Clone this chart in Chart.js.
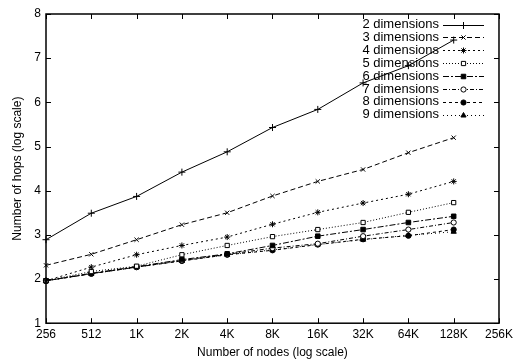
<!DOCTYPE html>
<html>
<head>
<meta charset="utf-8">
<script src="https://cdn.jsdelivr.net/npm/chart.js@4"></script>
<style>
  html, body { margin: 0; padding: 0; background: #fff; }
  #wrap { width: 517px; height: 360px; }
</style>
</head>
<body>
<div id="wrap"><canvas id="mycanvas" width="517" height="360"></canvas></div>
<script>
// node counts (log scale ticks); last one has no data
var nodes = ['256', '512', '1K', '2K', '4K', '8K', '16K', '32K', '64K', '128K', '256K'];
var yTicks = [1, 2, 3, 4, 5, 6, 7, 8];

var dims = ['2 dimensions', '3 dimensions', '4 dimensions', '5 dimensions',
            '6 dimensions', '7 dimensions', '8 dimensions', '9 dimensions'];

var hops2 = [2.89, 3.49, 3.87, 4.42, 4.88, 5.43, 5.84, 6.44, 6.83, 7.41];
var hops3 = [2.31, 2.56, 2.89, 3.23, 3.50, 3.88, 4.21, 4.48, 4.86, 5.20];
var hops4 = [1.96, 2.27, 2.55, 2.76, 2.95, 3.24, 3.51, 3.72, 3.92, 4.21];
var hops5 = [1.96, 2.17, 2.29, 2.55, 2.76, 2.96, 3.12, 3.28, 3.51, 3.73];
var hops6 = [1.96, 2.13, 2.28, 2.44, 2.57, 2.76, 2.97, 3.12, 3.28, 3.42];
var hops7 = [1.96, 2.12, 2.27, 2.42, 2.56, 2.70, 2.80, 2.97, 3.12, 3.28];
var hops8 = [1.96, 2.12, 2.27, 2.41, 2.55, 2.65, 2.78, 2.90, 2.98, 3.12];
var hops9 = [1.96, 2.12, 2.27, 2.41, 2.55, 2.66, 2.78, 2.89, 2.99, 3.07];

var FONT = '"Liberation Sans", Arial, Helvetica, sans-serif';

// style per series: marker, fill, dash
var styles = [
  { pt: 'cross',    r: 3.5, fill: '#000', dash: [] },
  { pt: 'crossRot', r: 3,   fill: '#000', dash: [5, 3] },
  { pt: 'star',     r: 3,   fill: '#000', dash: [2, 3] },
  { pt: 'rect',     r: 3,   fill: '#fff', dash: [1, 2] },
  { pt: 'rect',     r: 3.2, fill: '#000', dash: [6, 2, 2, 2] },
  { pt: 'circle',   r: 2.6, fill: '#fff', dash: [4, 2, 1, 2] },
  { pt: 'circle',   r: 2.6, fill: '#000', dash: [3, 3] },
  { pt: 'triangle', r: 3,   fill: '#000', dash: [1, 3] }
];
var series = [hops2, hops3, hops4, hops5, hops6, hops7, hops8, hops9];

var datasets = [];
for (var i in series) {
  var s = styles[i];
  datasets.push({
    label: dims[i],
    data: series[i],
    borderColor: '#000',
    borderWidth: 1,
    borderDash: s.dash,
    pointStyle: s.pt,
    pointRadius: s.r,
    pointBorderWidth: 1,
    pointBorderColor: '#000',
    pointBackgroundColor: s.fill,
    fill: false,
    tension: 0
  });
}

// border box + inward ticks on all four sides, gnuplot style
var frame = {
  id: 'frame',
  afterDraw: function(chart) {
    var c = chart.ctx, a = chart.chartArea;
    var xs = chart.scales.x, ys = chart.scales.y;
    c.save();
    c.strokeStyle = '#000';
    c.lineWidth = 1;
    c.setLineDash([]);
    c.beginPath();
    for (var i = 0; i < xs.ticks.length; i++) {
      var px = Math.round(xs.getPixelForTick(i)) + 0.5;
      c.moveTo(px, a.bottom); c.lineTo(px, a.bottom - 5);
      c.moveTo(px, a.top); c.lineTo(px, a.top + 5);
    }
    for (var j = 0; j < ys.ticks.length; j++) {
      var py = Math.round(ys.getPixelForTick(j)) + 0.5;
      c.moveTo(a.left, py); c.lineTo(a.left + 5, py);
      c.moveTo(a.right, py); c.lineTo(a.right - 5, py);
    }
    c.stroke();
    c.lineWidth = 1.5;
    c.strokeRect(a.left, a.top, a.right - a.left, a.bottom - a.top);
    c.restore();
  }
};

// key in the upper right: text, then line sample with marker
var key = {
  id: 'key',
  afterDraw: function(chart) {
    var c = chart.ctx;
    c.save();
    c.font = '13px ' + FONT;
    c.textAlign = 'right';
    c.textBaseline = 'middle';
    for (var i = 0; i < chart.data.datasets.length; i++) {
      var ds = chart.data.datasets[i];
      var y = 24.5 + i * 12.9;
      c.fillStyle = '#000';
      c.fillText(ds.label, 439, y);
      c.strokeStyle = '#000';
      c.lineWidth = 1;
      c.setLineDash(ds.borderDash);
      c.beginPath();
      c.moveTo(443, Math.round(y) + 0.5);
      c.lineTo(484, Math.round(y) + 0.5);
      c.stroke();
      c.setLineDash([]);
      c.fillStyle = ds.pointBackgroundColor;
      Chart.helpers.drawPoint(c, {
        pointStyle: ds.pointStyle, radius: ds.pointRadius, rotation: 0, borderWidth: 1
      }, 463.5, Math.round(y) + 0.5);
    }
    c.restore();
  }
};

var ctx = document.getElementById('mycanvas');
var chart = new Chart(ctx, {
  type: 'line',
  data: { labels: nodes, datasets: datasets },
  options: {
    responsive: false,
    animation: false,
    layout: { padding: { top: 14, right: 17, left: 0, bottom: 0 } },
    plugins: { legend: { display: false }, tooltip: { enabled: false } },
    scales: {
      x: {
        type: 'category',
        offset: false,
        grid: { display: false, drawTicks: false },
        border: { display: false },
        ticks: { color: '#000', font: { family: FONT, size: 12 }, padding: 4,
                 autoSkip: false, maxRotation: 0 },
        title: { display: true, text: 'Number of nodes (log scale)', color: '#000',
                 font: { family: FONT, size: 12 }, padding: { top: 0, bottom: 0 } }
      },
      y: {
        min: 1, max: 8,
        afterBuildTicks: function(s) { s.ticks = yTicks.map(function(v) { return { value: v }; }); },
        afterFit: function(s) { s.width = 46; },
        grid: { display: false, drawTicks: false },
        border: { display: false },
        ticks: { color: '#000', font: { family: FONT, size: 12 }, padding: 5 },
        title: { display: true, text: 'Number of hops (log scale)', color: '#000',
                 font: { family: FONT, size: 12 }, padding: { top: 10, bottom: 0 } }
      }
    }
  },
  plugins: [frame, key]
});
</script>
</body>
</html>
